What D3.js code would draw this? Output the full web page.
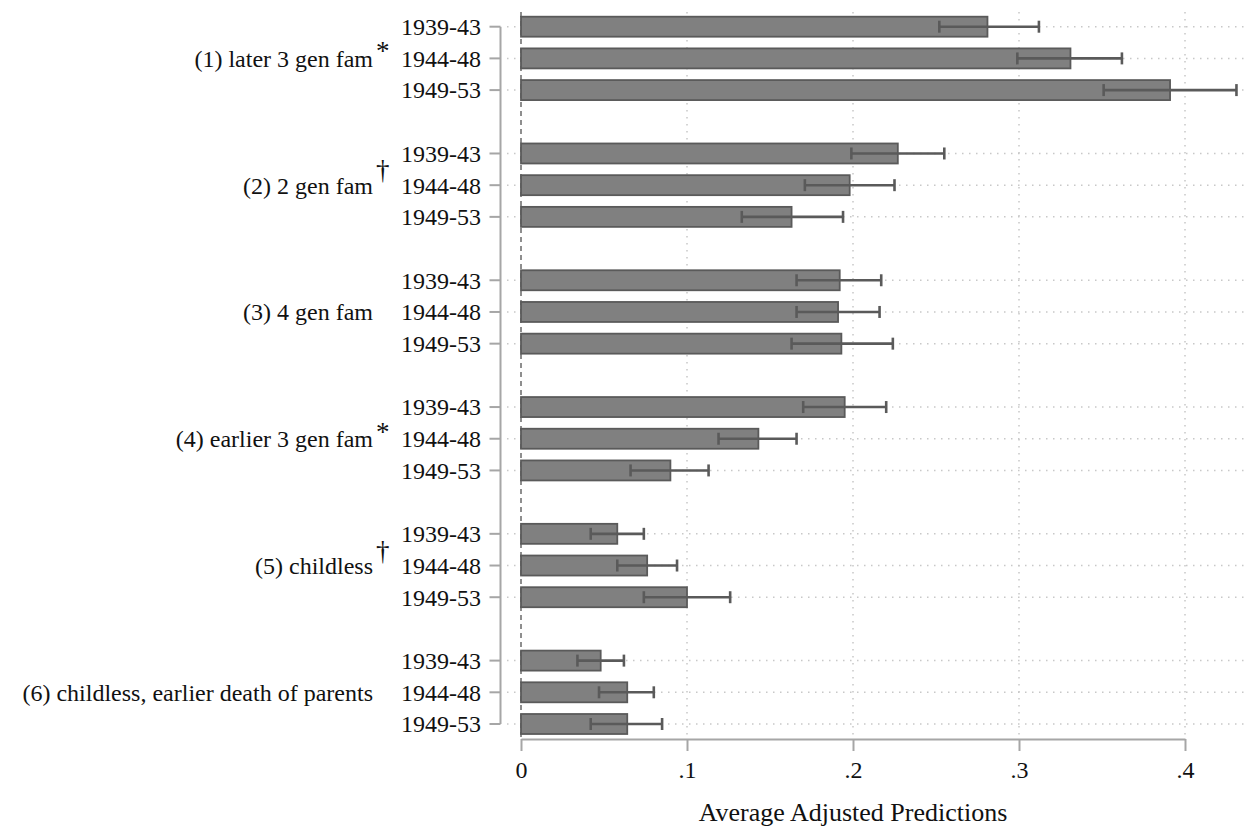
<!DOCTYPE html>
<html>
<head>
<meta charset="utf-8">
<script src="https://cdn.jsdelivr.net/npm/d3@7"></script>
<style>
  html, body { margin: 0; padding: 0; background: #fff; }
  svg { display: block; font-family: "Liberation Serif", "Times New Roman", serif; }
</style>
</head>
<body>
<svg id="chart" width="1250" height="827"></svg>
<script>
// ---- data ----
const groups = [
  "(1) later 3 gen fam",
  "(2) 2 gen fam",
  "(3) 4 gen fam",
  "(4) earlier 3 gen fam",
  "(5) childless",
  "(6) childless, earlier death of parents"
];
const groupMarks = ["*", "†", "", "*", "†", ""];
const cohorts = ["1939-43", "1944-48", "1949-53"];
// point estimates [group][cohort]
const estimates = [
  [0.281, 0.331, 0.391],
  [0.227, 0.198, 0.163],
  [0.192, 0.191, 0.193],
  [0.195, 0.143, 0.090],
  [0.058, 0.076, 0.100],
  [0.048, 0.064, 0.064]
];
const lower = [
  [0.252, 0.299, 0.351],
  [0.199, 0.171, 0.133],
  [0.166, 0.166, 0.163],
  [0.170, 0.119, 0.066],
  [0.042, 0.058, 0.074],
  [0.034, 0.047, 0.042]
];
const upper = [
  [0.312, 0.362, 0.431],
  [0.255, 0.225, 0.194],
  [0.217, 0.216, 0.224],
  [0.220, 0.166, 0.113],
  [0.074, 0.094, 0.126],
  [0.062, 0.080, 0.085]
];
const xTicks = [0, 0.1, 0.2, 0.3, 0.4];
const xTickLabels = ["0", ".1", ".2", ".3", ".4"];
const xTitle = "Average Adjusted Predictions";

// ---- build rows ----
const rows = [];
const slots = [];
groups.forEach((g, gi) => {
  cohorts.forEach((c, ci) => {
    const key = gi + "-" + ci;
    slots.push(key);
    rows.push({key, gi, ci, cohort: c, est: estimates[gi][ci], lo: lower[gi][ci], hi: upper[gi][ci]});
  });
  if (gi < groups.length - 1) slots.push("gap" + gi);
});

const svg = d3.select("#chart");
const x = d3.scaleLinear().domain([0, 0.4]).range([521, 1185]);
const y = d3.scalePoint().domain(slots).range([26.7, 724]);

const gridColor = "#c8c8c8";
const axisColor = "#a6a6a6";
const dark = "#5a5a5a";
const plotTop = 12, plotRight = 1248, axisY = 739, yAxisX = 500.5;

// vertical dotted gridlines
svg.append("g").selectAll("line").data(xTicks.filter(d => d > 0)).join("line")
  .attr("x1", d => x(d)).attr("x2", d => x(d))
  .attr("y1", plotTop).attr("y2", axisY)
  .attr("stroke", gridColor).attr("stroke-width", 1.5)
  .attr("stroke-dasharray", "1.5,5.5");

// horizontal dotted gridlines
svg.append("g").selectAll("line").data(rows).join("line")
  .attr("x1", 507).attr("x2", plotRight)
  .attr("y1", d => y(d.key)).attr("y2", d => y(d.key))
  .attr("stroke", gridColor).attr("stroke-width", 1.5)
  .attr("stroke-dasharray", "1.5,5.5");

// zero reference line (dashed)
svg.append("line")
  .attr("x1", x(0)).attr("x2", x(0))
  .attr("y1", plotTop).attr("y2", axisY)
  .attr("stroke", "#6a6a6a").attr("stroke-width", 1.5)
  .attr("stroke-dasharray", "5,4");

// bars
const barH = 20;
svg.append("g").selectAll("rect").data(rows).join("rect")
  .attr("x", x(0))
  .attr("y", d => y(d.key) - barH / 2)
  .attr("width", d => x(d.est) - x(0))
  .attr("height", barH)
  .attr("fill", "#808080")
  .attr("stroke", dark).attr("stroke-width", 1.8);

// error bars
const eb = svg.append("g").attr("stroke", dark).attr("stroke-width", 2.6);
eb.selectAll("line.ci").data(rows).join("line").attr("class", "ci")
  .attr("x1", d => x(d.lo)).attr("x2", d => x(d.hi))
  .attr("y1", d => y(d.key)).attr("y2", d => y(d.key));
const capH = 6;
eb.selectAll("line.caplo").data(rows).join("line").attr("class", "caplo")
  .attr("x1", d => x(d.lo)).attr("x2", d => x(d.lo))
  .attr("y1", d => y(d.key) - capH).attr("y2", d => y(d.key) + capH);
eb.selectAll("line.caphi").data(rows).join("line").attr("class", "caphi")
  .attr("x1", d => x(d.hi)).attr("x2", d => x(d.hi))
  .attr("y1", d => y(d.key) - capH).attr("y2", d => y(d.key) + capH);

// y axis line + ticks
svg.append("line")
  .attr("x1", yAxisX).attr("x2", yAxisX)
  .attr("y1", y(slots[0])).attr("y2", y(slots[slots.length - 1]))
  .attr("stroke", axisColor).attr("stroke-width", 2);
svg.append("g").selectAll("line").data(rows).join("line")
  .attr("x1", 489.5).attr("x2", yAxisX)
  .attr("y1", d => y(d.key)).attr("y2", d => y(d.key))
  .attr("stroke", axisColor).attr("stroke-width", 2);

// cohort labels
svg.append("g").selectAll("text").data(rows).join("text")
  .attr("x", 481).attr("y", d => y(d.key))
  .attr("dy", "0.35em")
  .attr("text-anchor", "end")
  .attr("font-size", 24).attr("fill", "#111")
  .text(d => d.cohort);

// group labels
const gl = svg.append("g");
groups.forEach((g, gi) => {
  const cy = y(gi + "-1");
  gl.append("text")
    .attr("x", 373).attr("y", cy).attr("dy", "0.35em")
    .attr("text-anchor", "end").attr("font-size", 24).attr("fill", "#111")
    .text(g);
  if (groupMarks[gi]) {
    const isStar = groupMarks[gi] === "*";
    gl.append("text")
      .attr("x", 376).attr("y", cy + (isStar ? 2 : -6))
      .attr("text-anchor", "start").attr("font-size", 27).attr("fill", "#111")
      .text(groupMarks[gi]);
  }
});

// x axis
const xAxis = d3.axisBottom(x).tickValues(xTicks)
  .tickFormat((d, i) => xTickLabels[i]).tickSize(12).tickSizeOuter(0).tickPadding(10);
const xa = svg.append("g").attr("transform", `translate(0,${axisY})`).call(xAxis);
xa.select(".domain").attr("stroke", axisColor).attr("stroke-width", 2);
xa.selectAll(".tick line").attr("stroke", axisColor).attr("stroke-width", 2);
xa.selectAll(".tick text").attr("font-size", 24).attr("fill", "#111")
  .attr("font-family", "Liberation Serif, Times New Roman, serif");

// x title
svg.append("text")
  .attr("x", (x(0) + x(0.4)) / 2).attr("y", 821)
  .attr("text-anchor", "middle").attr("font-size", 26).attr("fill", "#111")
  .text(xTitle);
</script>
</body>
</html>
